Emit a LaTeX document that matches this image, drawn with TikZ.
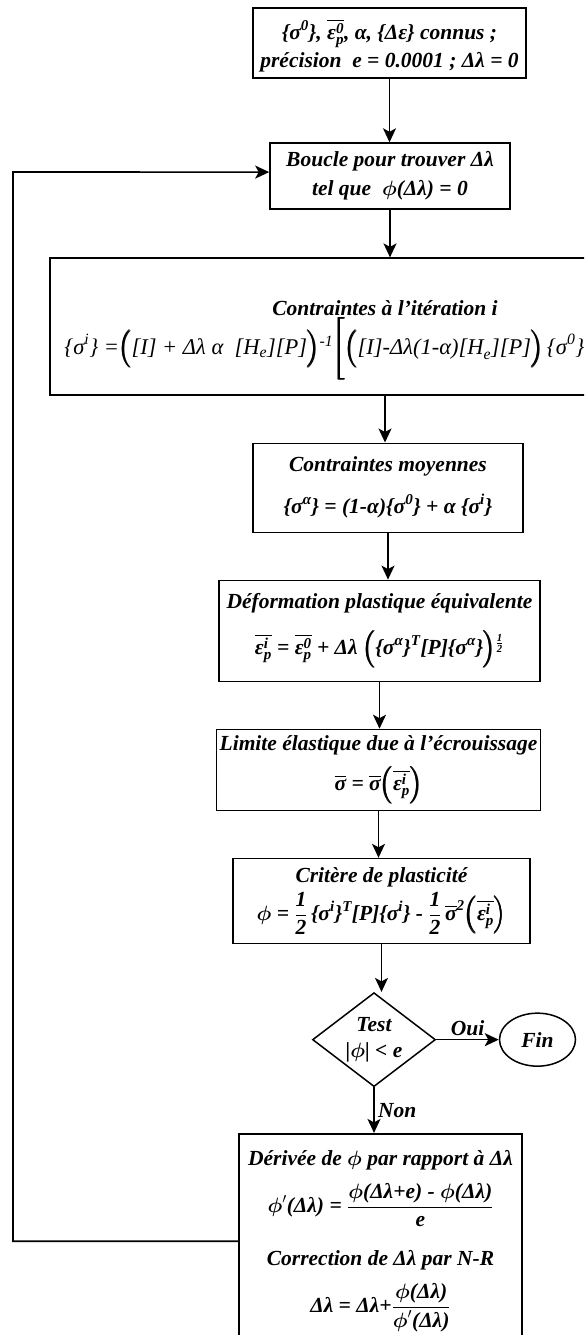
\documentclass[tikz,border=0pt]{standalone}
\usepackage{amsmath}
\usepackage{fontspec}
\setmainfont{Liberation Serif}
\usepackage{tikz}
\usetikzlibrary{shapes.geometric, arrows.meta, positioning, calc}
\newcommand{\titre}{\fontsize{21.5}{28}\selectfont\bfseries\itshape}
\newcommand{\formule}{\fontsize{22.5}{28}\selectfont\mdseries\itshape}
\newcommand{\tx}[1]{\text{#1}}
\newcommand{\ph}{\ensuremath{\boldsymbol{\phi}}}
\newcommand{\sg}[1]{\tx{\{σ}^{\tx{#1}}\tx{\}}}
\newcommand{\eb}[1]{\overline{\tx{ε}^{\tx{#1}}_{\tx{p}}}}
\newcommand{\gpar}[1]{\pmb{\Bigl(}#1\pmb{\Bigr)}}
\tikzset{
    etape/.style={
        rectangle, draw, line width=1.6pt,
        align=center, inner sep=3pt, font=\titre
    },
    losange/.style={diamond, draw, line width=1.5pt, aspect=1.3, minimum width=123pt, minimum height=94pt, inner sep=0pt, align=center, font=\titre},
    ovale/.style={ellipse, draw, line width=1.5pt, minimum width=76pt, minimum height=53pt, inner sep=0pt, font=\titre},
    fleche/.style={line width=1.6pt,-{Stealth[length=14pt,width=13pt,inset=3.5pt]}},
    lab/.style={font=\titre}
}
\begin{document}
\begin{tikzpicture}[x=1pt, y=-1pt]
        \useasboundingbox (0,0) rectangle (584,1335);
        \clip (0,0) rectangle (584,1335);
        \node [etape, minimum width=273pt, minimum height=70pt] (init) at (389.5,43) {\rule{0pt}{26pt}$\sg{0}$, $\eb{0}$, α, \{Δε\} connus ;\\précision~ e = 0.0001 ; Δλ = 0};
        \node [etape, minimum width=240pt, minimum height=66pt, below=63.5pt of init, xshift=0.5pt] (boucle) {Boucle pour trouver Δλ\\[1pt]tel que~ \ph(Δλ) = 0};
        \node [etape, minimum width=670pt, minimum height=137pt, below=47.5pt of boucle, xshift=-5pt] (iter) {};
        \node [font=\titre, inner sep=0pt] (iterT) at ($(iter.north)+(0,51)$) {Contraintes à l'itération i};
        \node [font=\formule, inner sep=0pt, anchor=west] (iterF) at ($(iter.west)+(15,22)$) {$\sg{i}\tx{ =}\gpar{\tx{[I] + Δλ α~ [H}_{\tx{e}}\tx{][P]}}^{\tx{-1}}\pmb{\Biggl[}\gpar{\tx{[I]-Δλ(1-α)[H}_{\tx{e}}\tx{][P]}}\,\sg{0}$};
        \node [etape, minimum width=270pt, minimum height=89pt, below=46.5pt of iter, xshift=3pt] (moy) {Contraintes moyennes\\[14pt]$\sg{α}\tx{ = (1-α)}\sg{0}\tx{ + α }\sg{i}$};
        \node [etape, minimum width=321pt, minimum height=101pt, below=46.5pt of moy, xshift=-8.5pt] (deform) {Déformation plastique équivalente\\[16pt]$\eb{i}\tx{ = }\eb{0}\tx{ + Δλ }\gpar{\sg{α}^{\tx{T}}\tx{[P]}\sg{α}}^{\frac{\tx{1}}{\tx{2}}}$};
        \node [etape, minimum width=317pt, minimum height=81pt, below=46.5pt of deform, xshift=-1pt] (limite) {Limite élastique due à l'écrouissage\\[10pt]$\overline{\tx{σ}}\tx{ = }\overline{\tx{σ}}\gpar{\eb{i}}$};
        \node [etape, minimum width=297pt, minimum height=85pt, below=46.5pt of limite, xshift=3pt] (critere) {Critère de plasticité\\[4pt]$\ph\tx{ = }\dfrac{\tx{1}}{\tx{2}}\,\sg{i}^{\tx{T}}\tx{[P]}\sg{i}\tx{ - }\dfrac{\tx{1}}{\tx{2}}\,\overline{\tx{σ}}^{\tx{2}}\gpar{\eb{i}}$};
        \node [losange, below=47.5pt of critere, xshift=-7.5pt] (test) {Test\\[-2pt]|\ph| < e};
        \node [ovale, right=62.5pt of test] (fin) {Fin};
        \node [etape, minimum width=283pt, minimum height=215pt, below=45.5pt of test, xshift=6.5pt] (deriv) {Dérivée de \ph{} par rapport à Δλ\\[12pt]$\ph^{\prime}\tx{(Δλ) = }\dfrac{\tx{\ph(Δλ+e) - \ph(Δλ)}}{\tx{e}}$\\[22pt]Correction de Δλ par N-R\\[13pt]$\tx{Δλ = Δλ+}\dfrac{\tx{\ph(Δλ)}}{\ph^{\prime}\tx{(Δλ)}}$};
        \coordinate (retour) at (13,172);

        \draw [fleche] (init.south) -- (init.south |- boucle.north);
        \draw [fleche] (boucle.south) -- (boucle.south |- iter.north);
        \draw [fleche] (iter.south) -- (iter.south |- moy.north);
        \draw [fleche] (moy.south) -- (moy.south |- deform.north);
        \draw [fleche] (deform.south) -- (deform.south |- limite.north);
        \draw [fleche] (limite.south) -- (limite.south |- critere.north);
        \draw [fleche] (critere.south) -- (critere.south |- test.north);
        \draw [fleche] (test) -- node [above, lab] {Oui} (fin);
        \draw [fleche] (test.south) -- node [right, lab] {Non} (test.south |- deriv.north);
        \draw [fleche] (deriv.west) -| (retour) -- ([yshift=4pt]boucle.west);
    \end{tikzpicture}
\end{document}
